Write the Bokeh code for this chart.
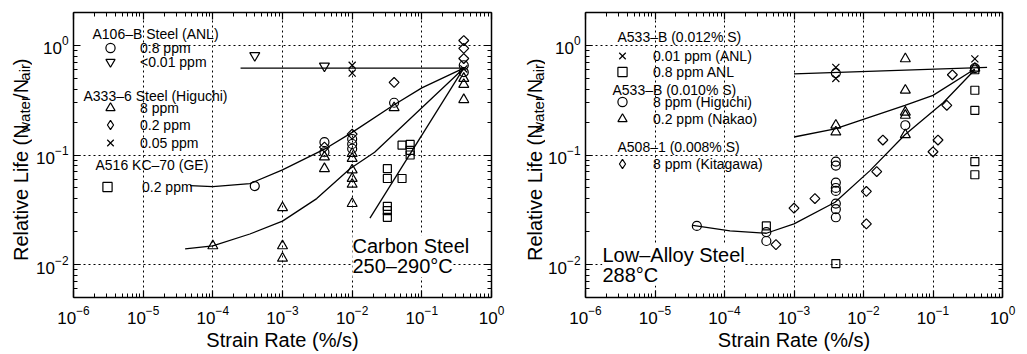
from math import log10, pi

from bokeh.embed import file_html
from bokeh.layouts import row
from bokeh.models import (BoxAnnotation, CustomJSTickFormatter, FixedTicker, Label,
                          Legend, LegendItem, LogAxis)
from bokeh.plotting import figure
from bokeh.resources import INLINE

FONT = "Liberation Sans"

# ---------------------------------------------------------------- data
X_RANGE = (1e-6, 1.0)
Y_RANGE = (0.005, 2.0)

# ---- left panel: carbon steel 250-290 C
cs_anl_08_x = [4e-4, 4e-3, 4e-3, 1e-2, 1e-2, 1e-2, 4e-2, 0.4, 0.4]
cs_anl_08_y = [0.052, 0.131, 0.106, 0.140, 0.126, 0.114, 0.30, 0.66, 0.57]
cs_anl_001_x = [4e-4, 4e-3]
cs_anl_001_y = [0.81, 0.65]
cs_hig_8_x = [1e-4, 1e-3, 1e-3, 1e-3, 4e-3, 4e-3, 1e-2, 1e-2, 1e-2, 1e-2, 1e-2, 1e-2,
              4e-2, 0.4, 0.4, 0.4]
cs_hig_8_y = [0.0148, 0.033, 0.0148, 0.0114, 0.096, 0.075, 0.103, 0.093, 0.073, 0.061,
              0.054, 0.036, 0.27, 0.50, 0.44, 0.32]
cs_hig_02_x = [4e-3, 1e-2, 4e-2, 0.4, 0.4, 0.4]
cs_hig_02_y = [0.118, 0.155, 0.46, 1.11, 0.94, 0.76]
cs_hig_005_x = [1e-2, 1e-2, 0.4]
cs_hig_005_y = [0.66, 0.56, 0.61]
cs_ge_02_x = [0.052, 0.068, 0.068, 0.068, 0.032, 0.032, 0.052, 0.032, 0.032, 0.032]
cs_ge_02_y = [0.123, 0.125, 0.110, 0.100, 0.075, 0.061, 0.061, 0.034, 0.031, 0.027]

cs_fit_low_x = [2.5e-4, 0.4]
cs_fit_low_y = [0.62, 0.62]
cs_fit_anl_x = [4.7e-5, 1.0e-4, 3.4e-4, 1.0e-3, 4.0e-3, 1.0e-2, 3.8e-2, 0.1, 0.4]
cs_fit_anl_y = [0.0526, 0.0515, 0.0548, 0.0732, 0.113, 0.161, 0.282, 0.41, 0.62]
cs_fit_hig_x = [4.0e-5, 1.0e-4, 3.4e-4, 1.0e-3, 3.1e-3, 9.3e-3, 0.021, 0.1, 0.4]
cs_fit_hig_y = [0.0139, 0.0148, 0.019, 0.0249, 0.040, 0.075, 0.106, 0.27, 0.62]
cs_fit_ge_x = [0.018, 0.4]
cs_fit_ge_y = [0.0265, 0.62]

# ---- right panel: low-alloy steel 288 C
la_anl_001_x = [4e-3, 4e-3, 0.4]
la_anl_001_y = [0.63, 0.50, 0.755]
la_anl_08_x = [4e-4, 4e-3, 0.4, 0.4, 0.4, 0.4, 0.4]
la_anl_08_y = [0.0225, 0.0102, 0.60, 0.39, 0.256, 0.087, 0.066]
la_hig_8_x = [4e-5, 4e-4, 4e-4, 4e-3, 4e-3, 4e-3, 4e-3, 4e-3, 4e-3, 4e-3, 4e-3, 4e-3,
              4e-2, 0.4]
la_hig_8_y = [0.0225, 0.0198, 0.0164, 0.56, 0.087, 0.080, 0.056, 0.050, 0.047, 0.036,
              0.032, 0.027, 0.187, 0.62]
la_nak_02_x = [4e-3, 4e-3, 4e-2, 4e-2, 4e-2, 4e-2, 4e-2, 0.4]
la_nak_02_y = [0.187, 0.162, 0.755, 0.39, 0.246, 0.23, 0.153, 0.62]
la_kit_8_x = [5.5e-4, 1e-3, 2e-3, 0.011, 0.011, 0.0155, 0.019, 0.1, 0.118, 0.158, 0.19]
la_kit_8_y = [0.0152, 0.0327, 0.040, 0.0465, 0.0235, 0.0706, 0.137, 0.107, 0.137, 0.284,
              0.54]

la_fit_low_x = [1e-3, 0.6]
la_fit_low_y = [0.55, 0.63]
la_fit_nak_x = [1e-3, 3.9e-3, 0.0124, 0.0395, 0.1, 0.4]
la_fit_nak_y = [0.146, 0.173, 0.222, 0.284, 0.35, 0.61]
la_fit_hig_x = [3.5e-5, 1.2e-4, 4e-4, 1e-3, 3.9e-3, 0.0124, 0.0395, 0.14, 0.4]
la_fit_hig_y = [0.0228, 0.0203, 0.0193, 0.0235, 0.037, 0.072, 0.153, 0.30, 0.60]

# tick positions
x_major = [10.0 ** k for k in range(-6, 1)]
x_minor = [m * 10.0 ** k for k in range(-6, 0) for m in range(2, 10)]
y_major = [0.01, 0.1, 1.0]
y_minor = [round(m * 10.0 ** k, 6) for k in range(-3, 1) for m in range(2, 10)
           if Y_RANGE[0] <= m * 10.0 ** k <= Y_RANGE[1]]

# ---------------------------------------------------------------- helpers
H = 354
LAB_W = 32


class Geo:
    def __init__(self, fx0, fw, fy0, fh):
        self.fx0, self.fw, self.fy0, self.fh = fx0, fw, fy0, fh

    def x(self, px):
        a, b = log10(X_RANGE[0]), log10(X_RANGE[1])
        return 10 ** (a + (px - self.fx0) / self.fw * (b - a))

    def y(self, py):
        a, b = log10(Y_RANGE[0]), log10(Y_RANGE[1])
        return 10 ** (b - (py - self.fy0) / self.fh * (b - a))


def style_axis(ax, labels=True):
    ax.axis_line_width = 1.5
    ax.axis_line_color = "black"
    ax.major_tick_in = 7
    ax.major_tick_out = 0
    ax.minor_tick_in = 4
    ax.minor_tick_out = 0
    ax.major_tick_line_color = "black"
    ax.minor_tick_line_color = "black"
    ax.major_tick_line_width = 1.2
    ax.minor_tick_line_width = 1
    ax.major_label_text_font = FONT
    ax.major_label_text_font_size = "17px"
    ax.major_label_text_color = "black"
    if not labels:
        ax.formatter = CustomJSTickFormatter(code="return ''")
        ax.major_label_standoff = 0


def make_fig(width, bl, br, bt, bb):
    p = figure(width=width, height=H, x_axis_type="log", y_axis_type="log",
               x_range=X_RANGE, y_range=Y_RANGE, output_backend="svg",
               toolbar_location=None, min_border_left=bl, min_border_right=br,
               min_border_top=bt, min_border_bottom=bb)
    p.outline_line_color = None
    p.background_fill_color = "white"
    p.border_fill_color = "white"
    xt = FixedTicker(ticks=x_major, minor_ticks=x_minor)
    yt = FixedTicker(ticks=y_major, minor_ticks=y_minor)
    p.xaxis.ticker = xt
    p.yaxis.ticker = yt
    style_axis(p.xaxis[0])
    style_axis(p.yaxis[0])
    p.xaxis[0].major_label_standoff = 8
    p.yaxis[0].major_label_standoff = 5
    p.xaxis[0].axis_label = "Strain Rate (%/s)"
    p.xaxis[0].axis_label_text_font = FONT
    p.xaxis[0].axis_label_text_font_size = "20px"
    p.xaxis[0].axis_label_text_font_style = "normal"
    p.xaxis[0].axis_label_text_color = "black"
    p.xaxis[0].axis_label_standoff = 2
    top = LogAxis(ticker=xt)
    style_axis(top, labels=False)
    p.add_layout(top, "above")
    rgt = LogAxis(ticker=yt)
    style_axis(rgt, labels=False)
    p.add_layout(rgt, "right")
    for g in (p.xgrid[0], p.ygrid[0]):
        g.grid_line_color = "black"
        g.grid_line_dash = "2 3"
        g.grid_line_width = 1
    p.xgrid[0].ticker = xt
    p.ygrid[0].ticker = yt
    return p


KW = dict(line_color="black", fill_color=None, line_width=1.2)


def pts(p, x, y, kind):
    if kind == "diamond":
        p.scatter(x, y, marker="square", angle=pi / 4, size=7, **KW)
        # legend sample only (the legend does not rotate markers)
        return p.scatter(x, y, marker="diamond", size=11, visible=False, **KW)
    size = {"circle": 9, "triangle": 10, "inverted_triangle": 10, "square": 8, "x": 10}[kind]
    return p.scatter(x, y, marker=kind, size=size, **KW)


def curve(p, x, y):
    p.line(x, y, line_color="black", line_width=1.3)


def item(p, label, r, vx, vy, ls):
    leg = Legend(items=[LegendItem(label=label, renderers=[r])],
                 location=(vx, vy), orientation="vertical",
                 padding=0, margin=0, spacing=0, glyph_width=24, glyph_height=23,
                 label_height=14, label_standoff=ls,
                 border_line_color=None, background_fill_alpha=0,
                 inactive_fill_alpha=0, click_policy="none",
                 label_text_font=FONT, label_text_font_size="14px",
                 label_text_color="black")
    p.add_layout(leg)


def text(p, geo, px, py, s, size="14px", bg=None):
    # py is the vertical centre of the text
    p.add_layout(Label(x=geo.x(px), y=geo.y(py), text=s, text_align="left",
                       text_baseline="middle", text_font=FONT, text_font_size=size,
                       text_color="black", background_fill_color=bg))


YL_PIECES = ["Relative Life (N", "water", "/N", "air", ")"]
YL_SIZES = [20, 15, 20, 15, 20]
YL_EM = [6.835, 2.445, 1.0, 1.111, 0.333]
YL_SUB = [False, True, False, True, False]

# measured placement of rotated labels inside the narrow strip:
# drawn y ~= STRIP_A + STRIP_B * requested y (pixels from the top)
STRIP_A, STRIP_B = -6.0, 0.892


def ylabel_fig(center_px, start_py):
    # narrow strip that carries the rotated y-axis title (with subscripts);
    # every piece is centred on its own anchor
    f = figure(width=LAB_W, height=H, x_range=(0, LAB_W), y_range=(0, H),
               output_backend="svg", toolbar_location=None,
               x_axis_location=None, y_axis_location=None,
               min_border_left=0, min_border_right=0, min_border_top=0,
               min_border_bottom=0)
    f.outline_line_color = None
    f.grid.visible = False
    py = start_py
    for t, fs, em, sub in zip(YL_PIECES, YL_SIZES, YL_EM, YL_SUB):
        length = em * fs
        mid = py - length / 2
        req = (mid - STRIP_A) / STRIP_B
        f.add_layout(Label(x=center_px + (3.5 if sub else 0), y=H - req, text=t,
                           angle=pi / 2, text_align="center", text_baseline="middle",
                           text_font=FONT, text_font_size=f"{fs}px", text_color="black"))
        py -= length
    return f


# ---------------------------------------------------------------- left panel
gL = Geo(73 - LAB_W, 418, 8, 289)
p1 = make_fig(513 - LAB_W, 73 - LAB_W, 22, 8, 57)
p1.add_layout(BoxAnnotation(left=X_RANGE[0], right=gL.x(141 - LAB_W), bottom=gL.y(148),
                            top=Y_RANGE[1], fill_color="white", fill_alpha=1,
                            line_color=None, level="underlay"))
curve(p1, cs_fit_low_x, cs_fit_low_y)
curve(p1, cs_fit_anl_x, cs_fit_anl_y)
curve(p1, cs_fit_hig_x, cs_fit_hig_y)
curve(p1, cs_fit_ge_x, cs_fit_ge_y)
r_c = pts(p1, cs_anl_08_x, cs_anl_08_y, "circle")
r_it = pts(p1, cs_anl_001_x, cs_anl_001_y, "inverted_triangle")
r_t = pts(p1, cs_hig_8_x, cs_hig_8_y, "triangle")
r_d = pts(p1, cs_hig_02_x, cs_hig_02_y, "diamond")
r_x = pts(p1, cs_hig_005_x, cs_hig_005_y, "x")
r_s = pts(p1, cs_ge_02_x, cs_ge_02_y, "square")
text(p1, gL, 92 - LAB_W, 30, "A106–B Steel (ANL)")
item(p1, "0.8 ppm", r_c, 25, 238, 18)
item(p1, "<0.01 ppm", r_it, 25, 224, 18)
text(p1, gL, 83 - LAB_W, 93, "A333–6 Steel (Higuchi)")
item(p1, "8 ppm", r_t, 25, 178, 18)
item(p1, "0.2 ppm", r_d, 25, 161, 18)
item(p1, "0.05 ppm", r_x, 25, 143, 18)
text(p1, gL, 95 - LAB_W, 163, "A516 KC–70 (GE)")
item(p1, "0.2 ppm", r_s, 22, 99, 23)
text(p1, gL, 352 - LAB_W, 245, "Carbon Steel", "20px", "white")
text(p1, gL, 352 - LAB_W, 265, "250–290°C", "20px", "white")
y1 = ylabel_fig(20, 262)

# ---------------------------------------------------------------- right panel
R0 = 513 + LAB_W
gR = Geo(585 - R0, 417, 12, 286)
p2 = make_fig(514 - LAB_W, 585 - R0, 25, 12, 56)
curve(p2, la_fit_low_x, la_fit_low_y)
curve(p2, la_fit_nak_x, la_fit_nak_y)
curve(p2, la_fit_hig_x, la_fit_hig_y)
q_x = pts(p2, la_anl_001_x, la_anl_001_y, "x")
q_s = pts(p2, la_anl_08_x, la_anl_08_y, "square")
q_c = pts(p2, la_hig_8_x, la_hig_8_y, "circle")
q_t = pts(p2, la_nak_02_x, la_nak_02_y, "triangle")
q_d = pts(p2, la_kit_8_x, la_kit_8_y, "diamond")
text(p2, gR, 617 - R0, 37, "A533–B (0.012% S)")
item(p2, "0.01 ppm (ANL)", q_x, 25, 230, 19)
item(p2, "0.8 ppm ANL", q_s, 25, 214, 19)
text(p2, gR, 612 - R0, 90, "A533–B (0.010% S)")
item(p2, "8 ppm (Higuchi)", q_c, 25, 184, 19)
item(p2, "0.2 ppm (Nakao)", q_t, 25, 167, 19)
text(p2, gR, 617 - R0, 147, "A508–1 (0.008% S)")
item(p2, "8 ppm (Kitagawa)", q_d, 25, 122, 19)
text(p2, gR, 602 - R0, 255, "Low–Alloy Steel", "20px", "white")
text(p2, gR, 602 - R0, 275, "288°C", "20px", "white")
y2 = ylabel_fig(21, 262)

layout = row(y1, p1, y2, p2)
open("out.html", "w").write(file_html(layout, INLINE))
